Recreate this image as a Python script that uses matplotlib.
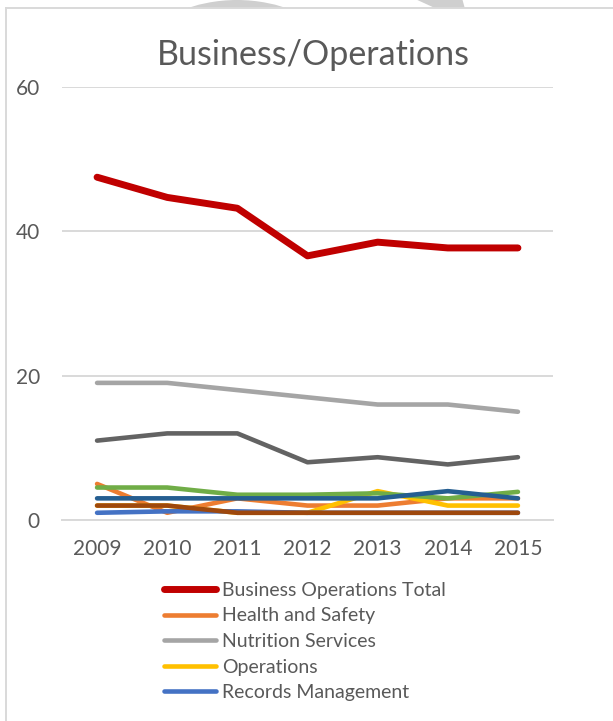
import matplotlib
matplotlib.use("Agg")
import matplotlib.pyplot as plt
from matplotlib.lines import Line2D
from matplotlib.patches import Circle, Polygon, Rectangle

plt.rcParams["font.family"] = ["Lato", "DejaVu Sans"]

# ---- data -------------------------------------------------------------
years = ["2009", "2010", "2011", "2012", "2013", "2014", "2015"]

series_names = [
    "Business Operations Total",
    "Health and Safety",
    "Nutrition Services",
    "Operations",
    "Records Management",
]
business_total = [47.5, 44.7, 43.2, 36.6, 38.5, 37.7, 37.7]
health_safety = [5, 1, 3, 2, 2, 3, 3]
nutrition = [19, 19, 18, 17, 16, 16, 15]
operations = [2, 2, 1, 1, 4, 2, 2]
records = [1, 1.2, 1.2, 1, 1, 1, 1]

# further departments plotted without legend rows
dept_dark_gray = [11, 12, 12, 8, 8.7, 7.7, 8.7]
dept_green = [4.5, 4.5, 3.5, 3.5, 3.7, 3, 3.9]
dept_dark_blue = [3, 3, 3, 3, 3, 4, 3]
dept_brown = [2, 2, 1, 1, 1, 1, 1]

# ---- style ------------------------------------------------------------
TEXT = "#595959"
GRID = "#D9D9D9"
W, H = 613, 721

fig = plt.figure(figsize=(W / 100, H / 100), dpi=100)
fig.patch.set_facecolor("white")


def fx(px):
    return px / W


def fy(py):
    return 1 - py / H


def inch(px_x, px_y):
    # pixel position (from top-left) -> inches from bottom-left
    return (px_x / 100, (H - px_y) / 100)


# page marks peeking above the chart frame
fig.add_artist(Circle(inch(237, 156), 1.56, transform=fig.dpi_scale_trans,
                      facecolor="#CFCFCF", edgecolor="none", zorder=0))
fig.add_artist(Polygon([inch(413, -2), inch(462, -2), inch(465, 9), inch(437, 9)],
                       closed=True, transform=fig.dpi_scale_trans,
                       facecolor="#CFCFCF", edgecolor="none", zorder=0))
# chart area (white) with a light frame on the top and left
fig.add_artist(Rectangle((fx(6), 0), 1, fy(8), transform=fig.transFigure,
                         facecolor="white", edgecolor="none", zorder=0.5))
fig.add_artist(Line2D([fx(6), fx(6)], [0, fy(8)], transform=fig.transFigure,
                      color=GRID, lw=1.4, zorder=0.6))
fig.add_artist(Line2D([fx(6), 1], [fy(8), fy(8)], transform=fig.transFigure,
                      color=GRID, lw=1.4, zorder=0.6))

ax = fig.add_axes([fx(62), fy(520), fx(553) - fx(62), fy(87) - fy(520)])
ax.set_zorder(2)
ax.set_facecolor("none")

x = list(range(len(years)))
line_specs = [
    (business_total, "#C00000", 5.0, series_names[0]),
    (health_safety, "#ED7D31", 3.3, series_names[1]),
    (nutrition, "#A5A5A5", 3.3, series_names[2]),
    (operations, "#FFC000", 3.3, series_names[3]),
    (records, "#4472C4", 3.3, series_names[4]),
    (dept_dark_gray, "#636363", 3.3, None),
    (dept_green, "#70AD47", 3.3, None),
    (dept_dark_blue, "#255E91", 3.3, None),
    (dept_brown, "#9E480E", 3.3, None),
]
legend_lines = []
for vals, color, lw, name in line_specs:
    (ln,) = ax.plot(x, vals, color=color, lw=lw, solid_capstyle="round",
                    solid_joinstyle="round", zorder=3)
    if name is not None:
        legend_lines.append((ln, name))

ax.set_xlim(-0.5, len(years) - 0.5)
ax.set_ylim(0, 60)
ax.set_yticks([0, 20, 40, 60])
ax.set_xticks(x)
ax.set_xticklabels(years)
ax.grid(axis="y", color=GRID, lw=1.4, zorder=1)
ax.set_axisbelow(True)
for side in ("top", "right", "left"):
    ax.spines[side].set_visible(False)
ax.spines["bottom"].set_color(GRID)
ax.spines["bottom"].set_linewidth(1.4)
ax.tick_params(axis="both", length=0, colors=TEXT, labelsize=15)
ax.tick_params(axis="y", pad=16)
ax.tick_params(axis="x", pad=14)

fig.text(fx(313), fy(65), "Business/Operations", ha="center", va="baseline",
         fontsize=24.5, color=TEXT)

# legend rows
row_y = [589, 614.5, 640, 665.5, 691]
for (ln, name), ry in zip(legend_lines, row_y):
    fig.add_artist(Line2D([fx(164), fx(216)], [fy(ry), fy(ry)], transform=fig.transFigure,
                          color=ln.get_color(), lw=ln.get_linewidth(),
                          solid_capstyle="round"))
    fig.text(fx(222), fy(ry), name, ha="left", va="center_baseline",
             fontsize=14, color=TEXT)

fig.savefig("out.png", dpi=100, facecolor="white")
